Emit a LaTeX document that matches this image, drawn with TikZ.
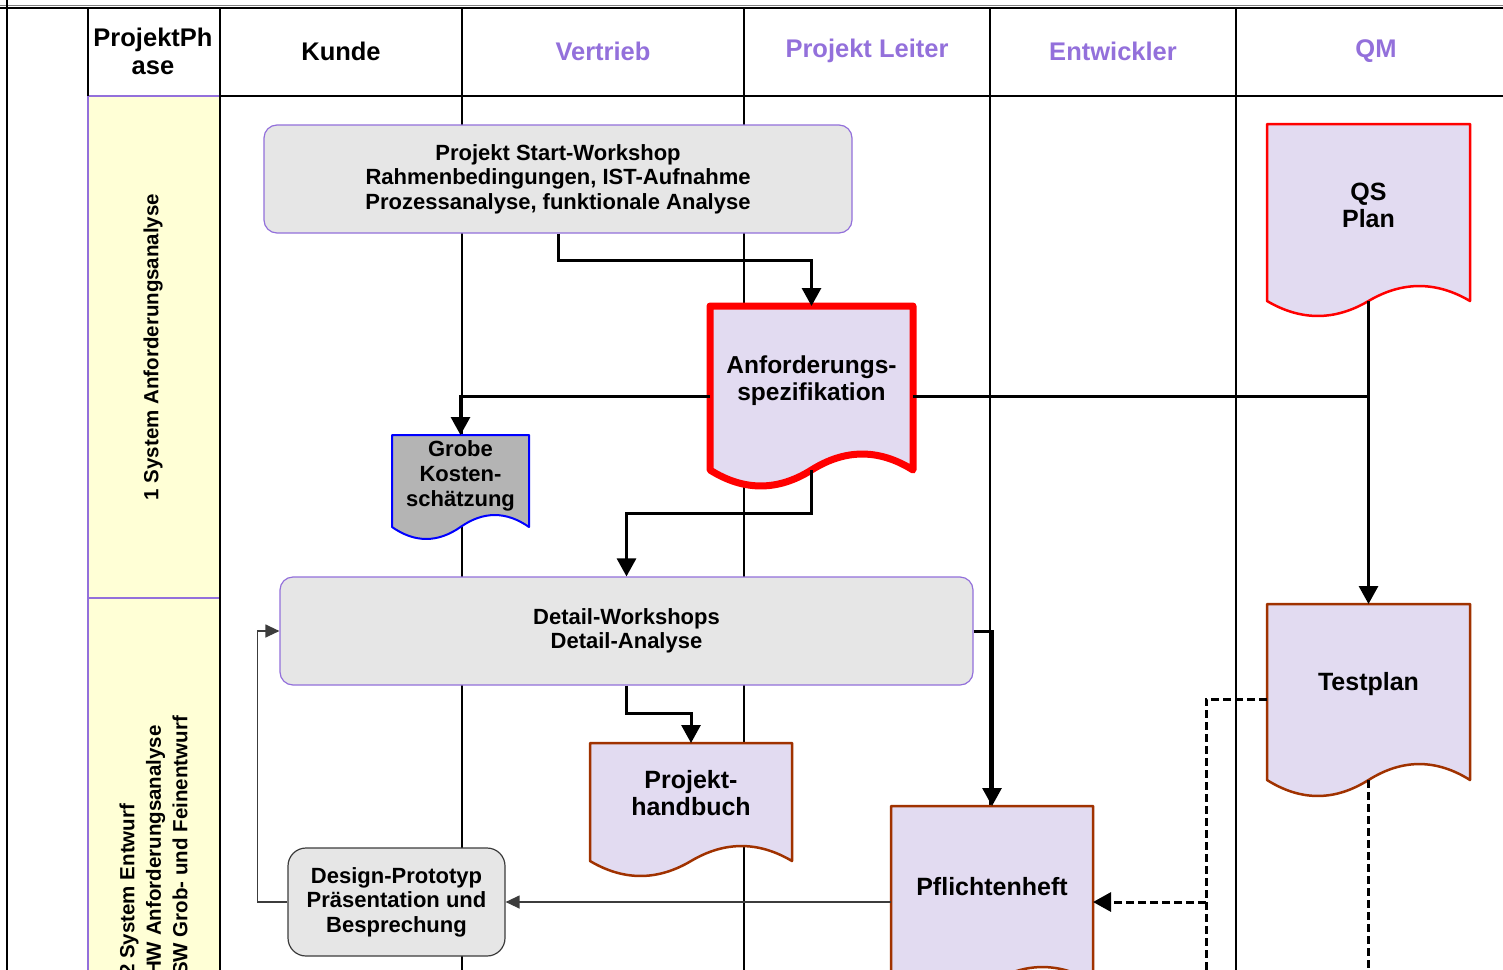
\documentclass[tikz,border=0pt]{standalone}
\usepackage{fontspec}
\setmainfont{Liberation Sans}
\usetikzlibrary{arrows.meta,calc}
\definecolor{lanepurple}{RGB}{147,112,219}
\definecolor{phaseyellow}{RGB}{255,255,214}
\definecolor{boxgray}{RGB}{230,230,230}
\definecolor{docfill}{RGB}{226,219,241}
\definecolor{docbrown}{RGB}{160,50,0}
\definecolor{grobegray}{RGB}{180,180,180}
\definecolor{thingray}{RGB}{60,60,60}
\newcommand{\docoutline}[3]{%
  \draw[#3] (#1.north west) -- (#1.south west)
   .. controls ($(#1.south west)!1/6!(#1.south east)+(0,{1.33*#2})$) and ($(#1.south west)!1/3!(#1.south east)+(0,{1.33*#2})$) .. ($(#1.south west)!0.5!(#1.south east)$)
   .. controls ($(#1.south west)!2/3!(#1.south east)+(0,{-1.33*#2})$) and ($(#1.south west)!5/6!(#1.south east)+(0,{-1.33*#2})$) .. (#1.south east)
   -- (#1.north east) -- cycle;}
\tikzset{
  laneline/.style={line width=1.3pt, black},
  hdr/.style={font=\fontsize{25.5}{28}\selectfont\bfseries, align=center, inner sep=0pt},
  hdrp/.style={hdr, text=lanepurple},
  boxtext/.style={font=\fontsize{22}{24.5}\selectfont\bfseries, align=center, inner sep=0pt},
  doctext/.style={font=\fontsize{25}{27}\selectfont\bfseries, align=center, inner sep=0pt},
  phasetext/.style={font=\fontsize{20.5}{26.5}\selectfont\bfseries, inner sep=0pt, rotate=90},
  rbox/.style={boxtext, rounded corners=13pt, fill=boxgray, draw=lanepurple, line width=1.2pt},
  docanchor/.style={inner sep=0pt, outer sep=0pt},
  docred/.style={fill=docfill, draw=red, line width=2.5pt, line join=round},
  docredthick/.style={fill=docfill, draw=red, line width=7pt, line join=round},
  docbr/.style={fill=docfill, draw=docbrown, line width=2.5pt, line join=round},
  docblue/.style={fill=grobegray, draw=blue, line width=2pt, line join=round},
  conn/.style={line width=3pt, -{Triangle[length=18pt,width=19pt]}},
  thinconn/.style={line width=1.3pt, draw=thingray, -{Triangle[length=14pt,width=13pt]}},
  dashconn/.style={line width=3pt, dash pattern=on 8pt off 4pt},
}
\begin{document}
\begin{tikzpicture}[x=1pt,y=-1pt]
\useasboundingbox (0,0) rectangle (1503,969);
\clip (0,0) rectangle (1503,969);
\fill[white] (0,0) rectangle (1503,969);
% phase column
\fill[phaseyellow] (88,96) rectangle (220,975);
\draw[lanepurple, line width=1.2pt] (88,96) -- (220,96) (88,598) -- (220,598) (88,96) -- (88,975);
% frame and lanes
\draw[gray, line width=1pt] (0,5) -- (1503,5);
\draw[laneline] (0,8) -- (1503,8);
\draw[laneline] (7,0) -- (7,975);
\draw[laneline] (88,8) -- (88,96);
\draw[laneline] (220,8) -- (220,975);
\draw[laneline] (220,96) -- (1503,96);
\foreach \lx in {462,744,990,1236} { \draw[laneline] (\lx,8) -- (\lx,975); }
% headers
\node[hdr] (hPhase) at (153,51) {ProjektPh\\ase};
\node[hdr] (hKunde) at (341,51) {Kunde};
\node[hdrp] (hVertrieb) at (603,51) {Vertrieb};
\node[hdrp] (hPL) at (867,51) {Projekt Leiter};
\node[hdrp] (hEntw) at (1113,51) {Entwickler};
\node[hdrp] (hQM) at (1376,51) {QM};
% phase labels
\node[phasetext] (ph1) at (153,347) {1 System Anforderungsanalyse};
\node[phasetext, align=left, anchor=west] (ph2) at (153.5,976) {2 System Entwurf\\HW Anforderungsanalyse\\SW Grob- und Feinentwurf};
% rounded boxes
\node[rbox, minimum width=588pt, minimum height=108pt] (start) at (558,179) {Projekt Start-Workshop\\Rahmenbedingungen, IST-Aufnahme\\Prozessanalyse, funktionale Analyse};
\node[rbox, minimum width=693pt, minimum height=108pt] (detail) at (626.5,631) {Detail-Workshops\\Detail-Analyse};
\node[rbox, draw=thingray, rounded corners=18pt, minimum width=217pt, minimum height=108pt] (design) at (396.5,902) {Design-Prototyp\\Präsentation und\\Besprechung};
% documents
\node[docanchor, minimum width=203pt, minimum height=164pt] (anf) at (811.5,388) {};
\docoutline{anf}{16}{docredthick}
\node[doctext, font=\fontsize{24.5}{27}\selectfont\bfseries] (anfT) at ([yshift=7pt]anf.center) {Anforderungs-\\spezifikation};
\node[docanchor, minimum width=203pt, minimum height=177pt] (qs) at (1368.5,212.5) {};
\docoutline{qs}{15}{docred}
\node[doctext] (qsT) at ([yshift=7.5pt]qs.center) {QS\\Plan};
\node[docanchor, minimum width=137pt, minimum height=92pt] (grobe) at (460.5,481) {};
\docoutline{grobe}{12}{docblue}
\node[doctext, font=\fontsize{22}{25}\selectfont\bfseries] (grobeT) at ([yshift=5pt]grobe.center) {Grobe\\Kosten-\\schätzung};
\node[docanchor, minimum width=202pt, minimum height=118pt] (hb) at (691,802) {};
\docoutline{hb}{15}{docbr}
\node[doctext] (hbT) at ([yshift=9pt]hb.center) {Projekt-\\handbuch};
\node[docanchor, minimum width=203pt, minimum height=176pt] (test) at (1368.5,692) {};
\docoutline{test}{16}{docbr}
\node[doctext] (testT) at ([yshift=8pt]test.center) {Testplan};
\node[docanchor, minimum width=202pt, minimum height=176pt] (pf) at (992,894) {};
\docoutline{pf}{15}{docbr}
\node[doctext] (pfT) at ([yshift=7pt]pf.center) {Pflichtenheft};
% connectors
\coordinate (anfL) at ($(anf.west)+(0,8)$);
\coordinate (anfR) at ($(anf.east)+(0,8)$);
\coordinate (tpL) at ($(test.west)+(0,7)$);
\coordinate (dashBot) at (1206,975);
\draw[conn] (start.south) -- ++(0,27) -| (anf.north);
\draw[conn] (anfL) -| (grobe.north);
\draw[line width=3pt] (anfR) -- (anfR -| qs.south);
\draw[conn] (qs.south) -- (test.north);
\draw[conn] (anf.south) -- ++(0,43) -| (detail.north);
\draw[conn] (detail.south) -- ++(0,28) -| (hb.north);
\draw[conn] (detail.east) -| (pf.north);
\draw[thinconn] (pf.west |- design.east) -- (design.east);
\draw[thinconn] (design.west) -- ++(-30,0) |- (detail.west);
\draw[dashconn] (tpL) -| (dashBot);
\draw[dashconn, -{Triangle[length=18pt,width=19pt]}] (dashBot |- design.east) -- (pf.east |- design.east);
\draw[dashconn] (test.south) -- ++(0,200);
\end{tikzpicture}
\end{document}
